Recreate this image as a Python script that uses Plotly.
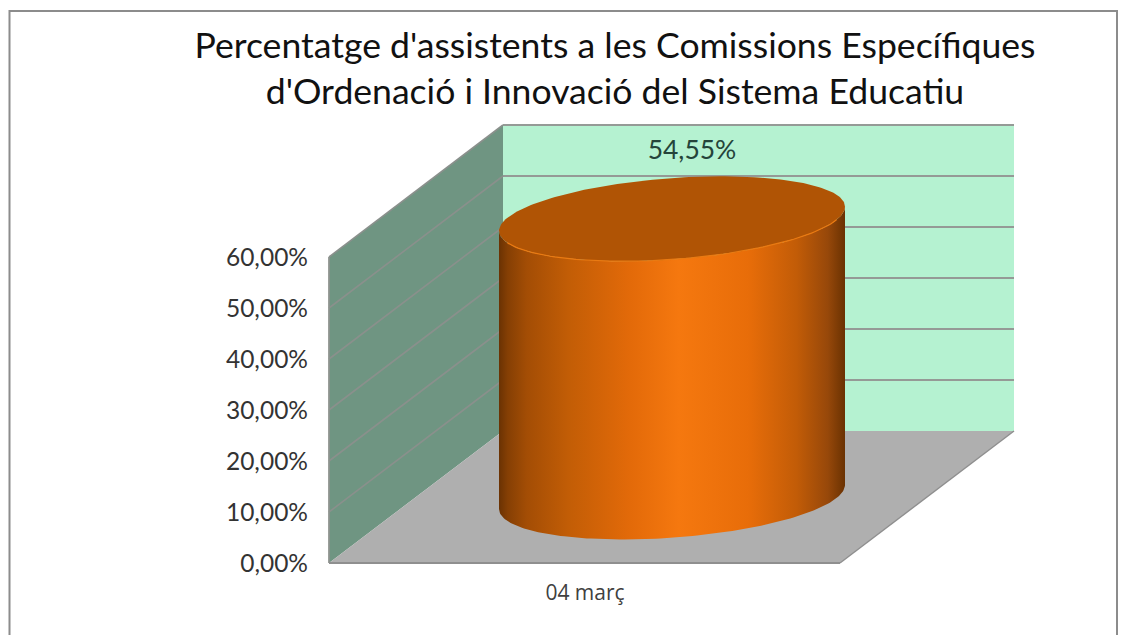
import numpy as np
import plotly.graph_objects as go

# ---- data ----
categories = ["04 març"]
values = [54.55]
value_labels = ["54,55%"]
y_ticks = [0, 10, 20, 30, 40, 50, 60]
y_tick_labels = ["0,00%", "10,00%", "20,00%", "30,00%", "40,00%", "50,00%", "60,00%"]
title_text = "Percentatge d'assistents a les Comissions Específiques<br>d'Ordenació i Innovació del Sistema Educatiu"

W, H = 1125, 635
PX_Y = 5.1       # px per percent
PX_X = 511.0     # px per category
Y0_PX = 563.0    # pixel row of 0 %
X0_PX = 585.0    # pixel column of the category
DEPTH_X = 174.0 / PX_X   # depth offset in x units
DEPTH_Y = 132.0 / PX_Y   # depth offset in y units
XL, XR = -256.0 / PX_X, 255.0 / PX_X
YMAX = y_ticks[-1]

xrange_ = [-X0_PX / PX_X, (W - X0_PX) / PX_X]
yrange_ = [-(H - Y0_PX) / PX_Y, Y0_PX / PX_Y]


def proj(x, y, d):
    return x + d * DEPTH_X, y + d * DEPTH_Y


def poly(points, fill):
    xs = [proj(*p)[0] for p in points]
    ys = [proj(*p)[1] for p in points]
    return go.Scatter(x=xs, y=ys, mode="lines", fill="toself", fillcolor=fill,
                      line=dict(color=fill, width=0), hoverinfo="skip")


def seg(p, q, color="#8f938f", width=1.6):
    a, b = proj(*p), proj(*q)
    return go.Scatter(x=[a[0], b[0]], y=[a[1], b[1]], mode="lines",
                      line=dict(color=color, width=width), hoverinfo="skip")


fig = go.Figure()

# Walls and floor
fig.add_trace(poly([(XL, 0, 1), (XR, 0, 1), (XR, YMAX, 1), (XL, YMAX, 1)], "#b5f2d1"))
fig.add_trace(poly([(XL, 0, 0), (XL, 0, 1), (XL, YMAX, 1), (XL, YMAX, 0)], "#6f9582"))
fig.add_trace(poly([(XL, 0, 0), (XR, 0, 0), (XR, 0, 1), (XL, 0, 1)], "#afafaf"))

# Gridlines and edges
for t in y_ticks:
    if t > 0:
        fig.add_trace(seg((XL, t, 1), (XR, t, 1), "#959a96", 2))
        fig.add_trace(seg((XL, t, 0), (XL, t, 1), "#8a908c", 1.6))
fig.add_trace(seg((XL, 0, 0), (XL, YMAX, 0), "#8f9490", 1.8))
fig.add_trace(seg((XL, 0, 0), (XR, 0, 0), "#8f8f8f", 2))
fig.add_trace(seg((XR, 0, 0), (XR, 0, 1), "#8f8f8f", 1.4))

# Cylinder: a disc standing on the middle of the floor
v = values[0]
CD = 0.5
RX = 173.0 / PX_X
SHEAR = 12.1 / PX_Y
RY = 40.7 / PX_Y


def ellipse(val, t):
    cx, cy = proj(0.0, val, CD)
    return cx + RX * np.cos(t), cy + SHEAR * np.cos(t) + RY * np.sin(t)


front = np.linspace(np.pi, 2 * np.pi, 120)
bx, by = ellipse(0, front)
tx, ty = ellipse(v, front[::-1])
fig.add_trace(go.Scatter(
    x=np.r_[bx, tx, bx[0]], y=np.r_[by, ty, by[0]],
    mode="lines", fill="toself", line=dict(width=0, color="#a85005"), hoverinfo="skip",
    fillgradient=dict(type="horizontal", colorscale=[
        [0.0, "#6a3203"], [0.025, "#853f04"], [0.08, "#a34d05"], [0.2, "#c25d06"],
        [0.38, "#e36a09"], [0.52, "#f5780f"], [0.72, "#e86d09"], [0.86, "#c25c07"],
        [0.95, "#97480a"], [1.0, "#6a3202"]])))
ex, ey = ellipse(v, np.linspace(0, 2 * np.pi, 240))
fig.add_trace(go.Scatter(x=ex, y=ey, mode="lines", fill="toself", fillcolor="#b05405",
                         line=dict(width=0, color="#b05405"), hoverinfo="skip"))
rim = np.linspace(1.1 * np.pi, 1.9 * np.pi, 80)
rx, ry = ellipse(v, rim)
fig.add_trace(go.Scatter(x=rx, y=ry, mode="lines", line=dict(color="#ea7a12", width=1.2),
                         hoverinfo="skip"))

# Value label, on the back wall level of the value
lx, ly = proj(0.0, v, 1.0)
fig.add_trace(go.Scatter(x=[lx - 67 / PX_X], y=[ly], mode="text", text=value_labels,
                         textposition="middle center",
                         textfont=dict(family="Lato", size=26.5, color="#24443a"),
                         hoverinfo="skip"))

fig.update_layout(
    width=W, height=H, margin=dict(l=0, r=0, t=0, b=0),
    paper_bgcolor="white", plot_bgcolor="white", showlegend=False,
    title=dict(text=title_text, x=615 / W, xanchor="center", y=1 - 58 / H, yanchor="middle",
               font=dict(family="Lato", size=35.6, color="#111111")),
    xaxis=dict(range=xrange_, tickmode="array", tickvals=[0], ticktext=categories,
               showgrid=False, zeroline=False, showline=False, ticklen=0,
               anchor="free", position=(H - Y0_PX) / H, ticklabelstandoff=15,
               tickfont=dict(family="Open Sans", size=21, color="#404040"), fixedrange=True),
    yaxis=dict(range=yrange_, tickmode="array", tickvals=y_ticks, ticktext=y_tick_labels,
               showgrid=False, zeroline=False, showline=False, ticklen=0,
               anchor="free", position=(X0_PX + XL * PX_X) / W, ticklabelstandoff=21,
               tickfont=dict(family="Lato", size=24.5, color="#333333"), fixedrange=True),
    shapes=[dict(type="rect", xref="paper", yref="paper",
                 x0=9.5 / W, x1=1117 / W, y0=-0.01, y1=1 - 11 / H,
                 line=dict(color="#8c8c8c", width=2), fillcolor="rgba(0,0,0,0)")],
)

fig.write_html("out.html", config={"displayModeBar": False},
               post_script="document.body.style.margin='0';")
